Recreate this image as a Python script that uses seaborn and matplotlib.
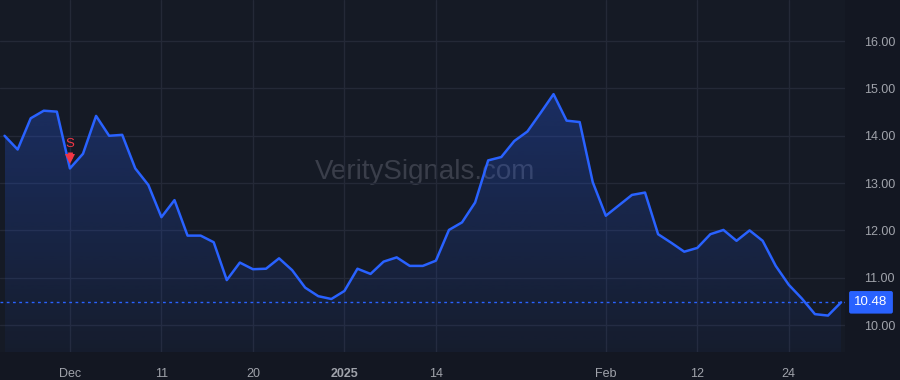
import numpy as np
import pandas as pd
import matplotlib
matplotlib.use("Agg")
import matplotlib.pyplot as plt
import seaborn as sns
from matplotlib.transforms import blended_transform_factory
from matplotlib.patches import Polygon

# ---- data (trading-day index 0 = 2024-11-22) ----
prices = [14.00, 13.71, 14.37, 14.53, 14.51, 13.31, 13.62, 14.42, 14.00, 14.02,
          13.31, 12.96, 12.28, 12.64, 11.89, 11.89, 11.75, 10.95, 11.32, 11.18,
          11.19, 11.41, 11.16, 10.79, 10.61, 10.55, 10.72, 11.19, 11.08, 11.34,
          11.43, 11.25, 11.25, 11.36, 12.01, 12.17, 12.59, 13.48, 13.55, 13.89,
          14.09, 14.48, 14.88, 14.32, 14.29, 13.02, 12.31, 12.53, 12.75, 12.80,
          11.92, 11.74, 11.55, 11.63, 11.92, 12.01, 11.78, 12.00, 11.78, 11.25,
          10.85, 10.56, 10.23, 10.20, 10.48]
day_index = list(range(len(prices)))
xtick_pos = [5, 12, 19, 26, 33, 46, 53, 60]
xtick_labels = ["Dec", "11", "20", "2025", "14", "Feb", "12", "24"]
ytick_vals = [10, 11, 12, 13, 14, 15, 16]
last_price = 10.48
signal_index = 5
signal_label = "S"
watermark = "VeritySignals.com"

df = pd.DataFrame({"day": day_index, "price": prices})

BG = "#131722"
PANEL = "#151a25"
GRID = "#242937"
LINE = "#2962FF"
TXT = "#a0a3ab"
RED = "#f23645"

sns.set_style("dark")
plt.rcParams["font.family"] = ["Liberation Sans", "DejaVu Sans"]

fig = plt.figure(figsize=(9, 3.8), dpi=100, facecolor=BG)
ax = fig.add_axes([0, 28 / 380, 845 / 900, 352 / 380])
ax.set_facecolor(PANEL)

ax.set_xlim(-0.35, 64.3)
ax.set_ylim(9.43, 16.87)

# gradient fill under line
verts = [(day_index[0], 9.43)] + list(zip(day_index, prices)) + [(day_index[-1], 9.43)]
poly = Polygon(verts, closed=True, facecolor="none", edgecolor="none")
ax.add_patch(poly)
grad = np.linspace(0.0, 1.0, 256)
rgba = np.zeros((256, 1, 4))
rgba[..., 0] = 41 / 255
rgba[..., 1] = 98 / 255
rgba[..., 2] = 255 / 255
rgba[:, 0, 3] = 0.04 + 0.24 * grad
im = ax.imshow(rgba, extent=[day_index[0], day_index[-1], 9.43, max(prices)],
               origin="lower", aspect="auto", zorder=1, interpolation="bilinear")
im.set_clip_path(poly)

sns.lineplot(data=df, x="day", y="price", color=LINE, linewidth=1.8, ax=ax, zorder=3)

# last-price dotted line
ax.axhline(last_price, color=LINE, linestyle=(0, (2, 2.5)), linewidth=1, zorder=2)

# grid
ax.set_xticks(xtick_pos)
ax.set_xticklabels(xtick_labels)
ax.set_yticks(ytick_vals)
ax.set_yticklabels([f"{v:.2f}" for v in ytick_vals])
ax.grid(True, color=GRID, linewidth=1)
ax.set_axisbelow(True)
for s in ax.spines.values():
    s.set_visible(False)
ax.tick_params(axis="y", left=False, right=False, labelleft=False, labelright=True,
               labelsize=9, labelcolor=TXT, pad=10)
ax.tick_params(axis="x", bottom=False, labelsize=9, labelcolor=TXT, pad=8)
for lbl in ax.get_xticklabels():
    if lbl.get_text() == "2025":
        lbl.set_fontweight("bold")
ax.set_xlabel("")
ax.set_ylabel("")

# watermark
ax.text(0.503, 0.511, watermark, transform=ax.transAxes, ha="center", va="center",
        fontsize=20, color="#3a3e4a", zorder=0.5)

# sell signal: letter + block arrow (shaft + head)
ax.text(signal_index, 13.82, signal_label, ha="center", va="center", fontsize=9.5,
        color=RED, zorder=5)
ax.plot([signal_index, signal_index], [13.66, 13.52], color=RED, linewidth=3.5,
        solid_capstyle="butt", zorder=5)
ax.plot([signal_index], [13.50], marker="v", markersize=7, color=RED,
        markeredgewidth=0, zorder=5)

# last price label
tr = blended_transform_factory(ax.transAxes, ax.transData)
ax.text(1.0 + 26 / 845, last_price, f"{last_price:.2f}", transform=tr, ha="center",
        va="center", fontsize=9.5, color="white", zorder=6, clip_on=False,
        bbox=dict(boxstyle="round,pad=0.4,rounding_size=0.15", fc=LINE, ec="none"))

fig.savefig("out.png", dpi=100, facecolor=BG)
